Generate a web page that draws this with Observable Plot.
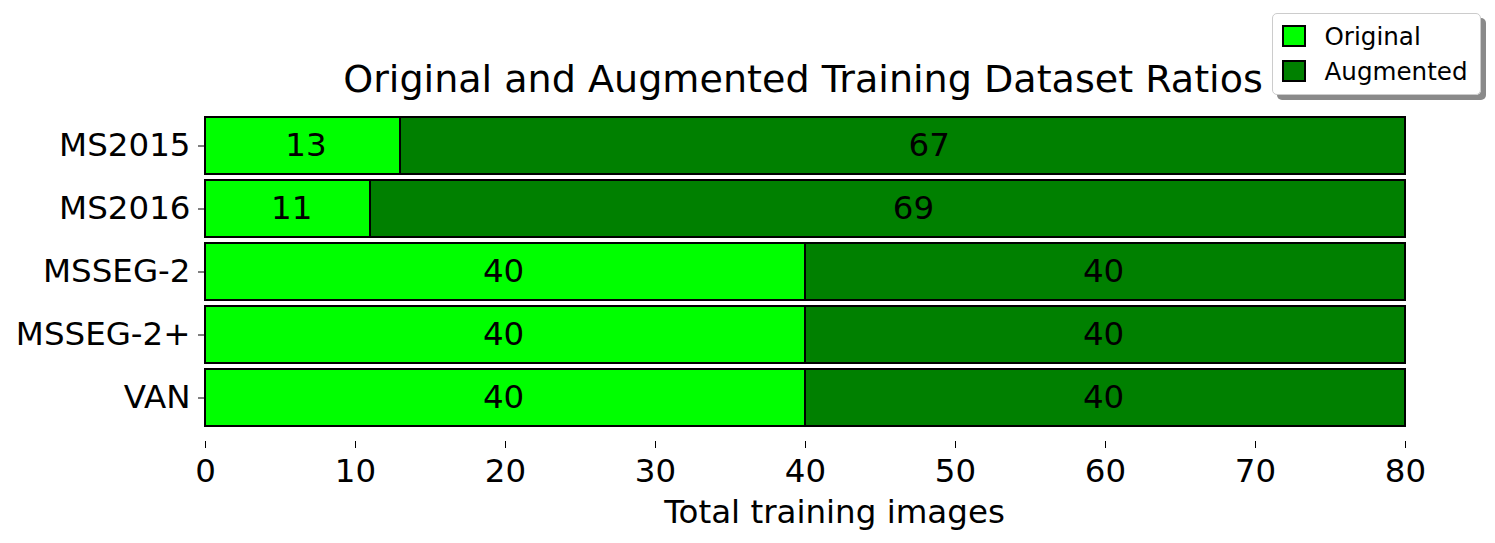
<!DOCTYPE html>
<html>
<head>
<meta charset="utf-8">
<script src="https://cdn.jsdelivr.net/npm/d3@7"></script>
<script src="https://cdn.jsdelivr.net/npm/@observablehq/plot@0.6"></script>
<style>
  html, body { margin: 0; padding: 0; background: #fff; }
  #wrap { position: relative; width: 1495px; height: 543px; font-family: "DejaVu Sans", sans-serif; }
  #title { position: absolute; left: 203px; width: 1200px; top: 59.7px; text-align: center; font-size: 38.1px; color: #000; line-height: 1; white-space: nowrap; }
  #legend { position: absolute; left: 1272px; top: 13px; width: 209px; height: 82px; background: rgba(255,255,255,0.95); border: 1.5px solid #cccccc; border-radius: 5px; box-shadow: 5px 5px 0 #8a8a8a; box-sizing: border-box; font-size: 24.6px; }
  .sw { position: absolute; width: 24px; height: 22px; border: 2px solid #000; box-sizing: border-box; }
  .lab { position: absolute; line-height: 1; white-space: nowrap; color: #000; }
  svg { position: absolute; left: 0; top: 0; }
</style>
</head>
<body>
<div id="wrap">
  <div id="chart"></div>
  <div id="title">Original and Augmented Training Dataset Ratios</div>
  <div id="legend"></div>
</div>
<script>
const datasets = ["MS2015", "MS2016", "MSSEG-2", "MSSEG-2+", "VAN"];
const seriesNames = ["Original", "Augmented"];
const originalValues = [13, 11, 40, 40, 40];
const augmentedValues = [67, 69, 40, 40, 40];
// where each value label sits along the x axis
const originalLabelAt = [6.7, 5.75, 19.87, 19.87, 19.87];
const augmentedLabelAt = [48.25, 47.2, 59.87, 59.87, 59.87];
const seriesColors = ["#00ff00", "#008000"];
const xTicks = [0, 10, 20, 30, 40, 50, 60, 70, 80];
const xLabel = "Total training images";

const rows = [];
const labels = [];
datasets.forEach((d, i) => {
  rows.push({name: d, series: seriesNames[0], value: originalValues[i]});
  rows.push({name: d, series: seriesNames[1], value: augmentedValues[i]});
  labels.push({name: d, at: originalLabelAt[i], text: String(originalValues[i])});
  labels.push({name: d, at: augmentedLabelAt[i], text: String(augmentedValues[i])});
});

const chart = Plot.plot({
  width: 1495,
  height: 543,
  marginLeft: 205,
  marginRight: 90,
  marginTop: 101,
  marginBottom: 102,
  style: {fontFamily: "DejaVu Sans, sans-serif", background: "white"},
  x: {domain: [0, 80], ticks: xTicks},
  y: {domain: datasets, paddingInner: 0.1, paddingOuter: 0.23},
  color: {domain: seriesNames, range: seriesColors},
  marks: [
    Plot.barX(rows, Plot.stackX({x: "value", y: "name", fill: "series", order: seriesNames, stroke: "#000", strokeWidth: 2})),
    Plot.text(labels, {x: "at", y: "name", text: "text", fontSize: 32.5, fill: "#000"}),
    Plot.axisX({ticks: xTicks, tickSize: 7, tickPadding: 10, fontSize: 32.5, label: null}),
    Plot.text([xLabel], {frameAnchor: "bottom", text: d => d, fontSize: 32.5, lineAnchor: "bottom", dy: 81, dx: 29, fill: "#000"}),
    Plot.axisY({tickSize: 7, tickPadding: 8, fontSize: 32.5, label: null})
  ]
});
document.getElementById("chart").appendChild(chart);

const legend = document.getElementById("legend");
seriesNames.forEach((s, i) => {
  const sw = document.createElement("div");
  sw.className = "sw";
  sw.style.left = "8.5px";
  sw.style.top = (10.5 + i * 35) + "px";
  sw.style.background = seriesColors[i];
  const lab = document.createElement("div");
  lab.className = "lab";
  lab.textContent = s;
  lab.style.left = "51.5px";
  lab.style.top = (10.5 + i * 35) + "px";
  legend.appendChild(sw);
  legend.appendChild(lab);
});
</script>
</body>
</html>
